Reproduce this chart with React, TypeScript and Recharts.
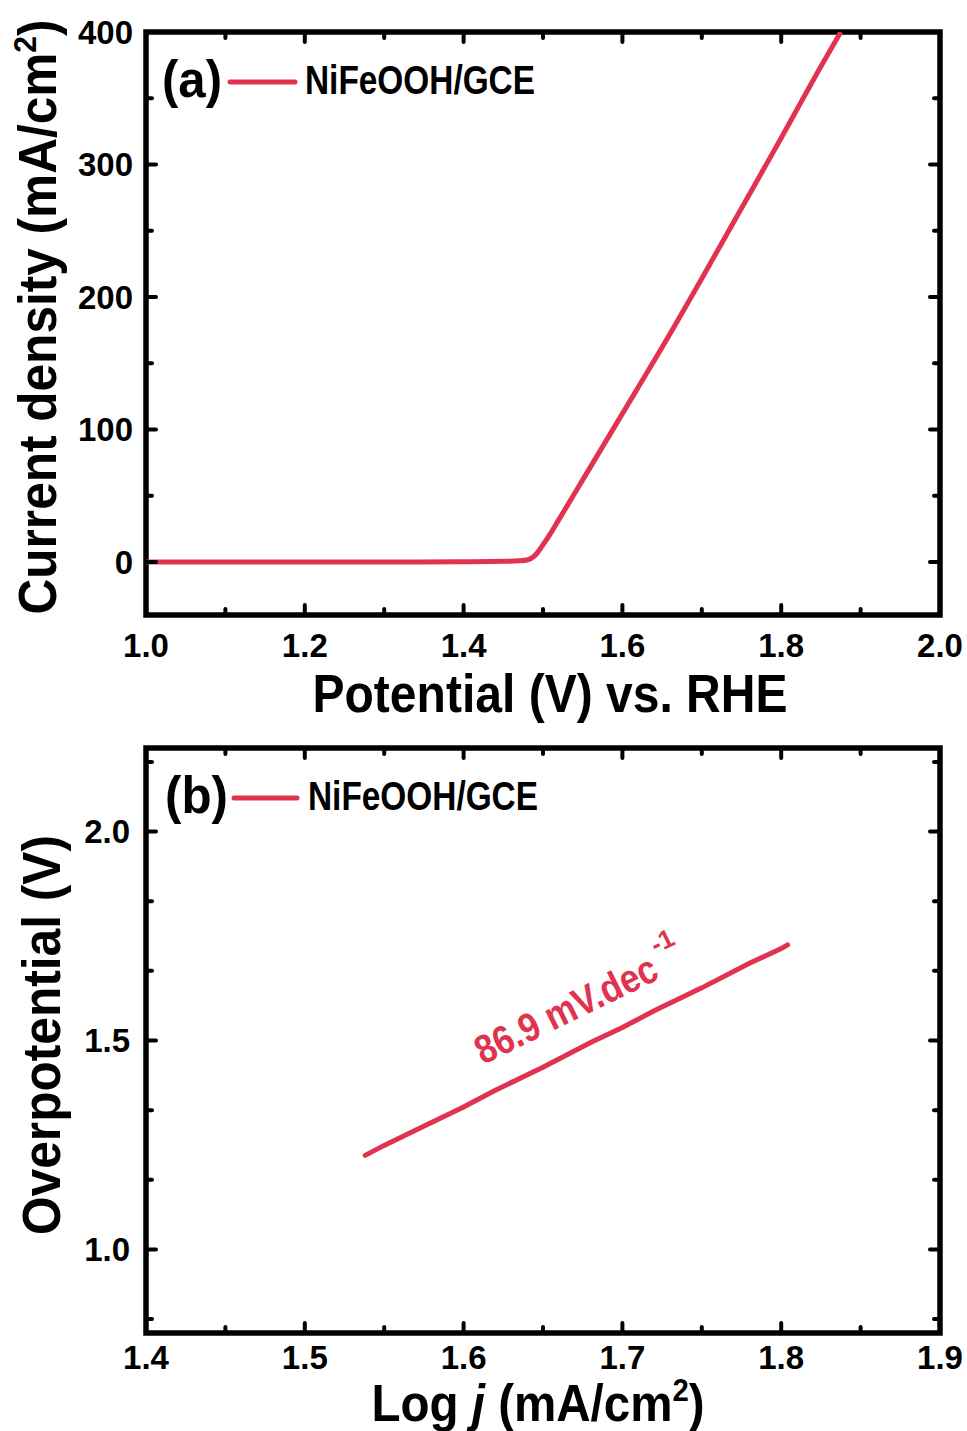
import { LineChart, Line, XAxis, YAxis, ReferenceArea } from "recharts";

// (a) polarization curve
const potential = [1.0, 1.1, 1.2, 1.3, 1.4, 1.45, 1.47, 1.48, 1.49, 1.5, 1.51, 1.52, 1.53, 1.55, 1.6, 1.65, 1.7, 1.75, 1.8, 1.85, 1.875];
const current = [0, 0, 0, 0, 0.2, 0.5, 0.9, 1.5, 5, 13, 22, 32, 42, 62, 112, 162, 214, 267, 320, 374, 400];

// (b) Tafel plot
const logJ = [1.538, 1.55, 1.57, 1.6, 1.62, 1.65, 1.68, 1.7, 1.72, 1.75, 1.78, 1.8, 1.804];
const overpotential = [1.225, 1.249, 1.286, 1.341, 1.381, 1.436, 1.495, 1.531, 1.571, 1.626, 1.685, 1.72, 1.729];

const potMajor = [1.0, 1.2, 1.4, 1.6, 1.8, 2.0];
const potMinor = [1.1, 1.3, 1.5, 1.7, 1.9];
const curMajor = [0, 100, 200, 300, 400];
const curMinor = [50, 150, 250, 350];
const logMajor = [1.4, 1.5, 1.6, 1.7, 1.8, 1.9];
const logMinor = [1.45, 1.55, 1.65, 1.75, 1.85];
const etaMajor = [1.0, 1.5, 2.0];
const etaMinor = [0.8333, 1.1667, 1.3333, 1.6667, 1.8333, 2.1667];

const RED = "#e03350";
const FONT = "'Liberation Sans', Arial, sans-serif";

const isIn = (arr: number[], v: number) => arr.some((m) => Math.abs(m - v) < 1e-6);
const sorted = (a: number[], b: number[]) => [...a, ...b].sort((p, q) => p - q);

// draws the inward tick on the axis side and its mirror on the opposite frame side
function tickRenderer(
  side: "bottom" | "left",
  majors: number[],
  fmt: (v: number) => string,
  labelOffset: number,
  mirrorAt: number
) {
  return (props: any) => {
    const { x, y, payload } = props;
    const major = isIn(majors, payload.value);
    const len = major ? 10 : 6;
    const tk = { stroke: "#000", strokeWidth: 4, strokeLinecap: "round" as const };
    if (side === "bottom") {
      return (
        <g>
          <line x1={x} y1={y} x2={x} y2={y - len} {...tk} />
          <line x1={x} y1={mirrorAt} x2={x} y2={mirrorAt + len} {...tk} />
          {major && (
            <text x={x} y={y + labelOffset} textAnchor="middle" fontFamily={FONT} fontWeight="bold" fontSize={33} fill="#000">
              {fmt(payload.value)}
            </text>
          )}
        </g>
      );
    }
    return (
      <g>
        <line x1={x} y1={y} x2={x + len} y2={y} {...tk} />
        <line x1={mirrorAt} y1={y} x2={mirrorAt - len} y2={y} {...tk} />
        {major && (
          <text x={x - labelOffset} y={y} dy="0.36em" textAnchor="end" fontFamily={FONT} fontWeight="bold" fontSize={33} fill="#000">
            {fmt(payload.value)}
          </text>
        )}
      </g>
    );
  };
}

function PanelA() {
  const data = potential.map((v, i) => ({ v, j: current[i] }));
  const xt = sorted(potMajor, potMinor);
  const yt = sorted(curMajor, curMinor);
  return (
    <LineChart width={967} height={725} data={data} margin={{ top: 32, right: 27, left: 0, bottom: 0 }}>
      <XAxis dataKey="v" type="number" domain={[1, 2]} ticks={xt} interval={0} height={110} axisLine={false}
        tickLine={false} tickSize={0} tickMargin={0} allowDataOverflow
        tick={tickRenderer("bottom", potMajor, (v) => v.toFixed(1), 42, 32)} />
      <YAxis type="number" domain={[-40, 400]} ticks={yt} interval={0} width={146} axisLine={false}
        tickLine={false} tickSize={0} tickMargin={0} allowDataOverflow
        tick={tickRenderer("left", curMajor, (v) => String(v), 13, 940)} />
      <Line dataKey="j" type="monotone" stroke={RED} strokeWidth={5} dot={false} isAnimationActive={false} />
      <ReferenceArea x1={1} x2={2} y1={-40} y2={400} fill="none" stroke="#000" strokeWidth={5.5} ifOverflow="visible" />

      <text x={162} y={97} fontFamily={FONT} fontWeight="bold" fontSize={52} textLength={60} lengthAdjust="spacingAndGlyphs">(a)</text>
      <line x1={230} y1={82} x2={295} y2={82} stroke={RED} strokeWidth={5} strokeLinecap="round" />
      <text x={305} y={94} fontFamily={FONT} fontWeight="bold" fontSize={40} textLength={230} lengthAdjust="spacingAndGlyphs">NiFeOOH/GCE</text>

      <text x={550} y={712} textAnchor="middle" fontFamily={FONT} fontWeight="bold" fontSize={53} textLength={475} lengthAdjust="spacingAndGlyphs">
        Potential (V) vs. RHE
      </text>
      <text x={56} y={317} transform="rotate(-90 56 317)" textAnchor="middle" fontFamily={FONT} fontWeight="bold" fontSize={53}
        textLength={595} lengthAdjust="spacingAndGlyphs">
        Current density (mA/cm<tspan fontSize={32} dy={-20}>2</tspan><tspan dy={20}>)</tspan>
      </text>
    </LineChart>
  );
}

function PanelB() {
  const data = logJ.map((v, i) => ({ v, eta: overpotential[i] }));
  const xt = sorted(logMajor, logMinor);
  const yt = sorted(etaMajor, etaMinor);
  return (
    <LineChart width={967} height={706} data={data} margin={{ top: 23, right: 27, left: 0, bottom: 0 }}>
      <XAxis dataKey="v" type="number" domain={[1.4, 1.9]} ticks={xt} interval={0} height={98} axisLine={false}
        tickLine={false} tickSize={0} tickMargin={0} allowDataOverflow
        tick={tickRenderer("bottom", logMajor, (v) => v.toFixed(1), 36, 23)} />
      <YAxis type="number" domain={[0.8, 2.2]} ticks={yt} interval={0} width={146} axisLine={false}
        tickLine={false} tickSize={0} tickMargin={0} allowDataOverflow
        tick={tickRenderer("left", etaMajor, (v) => v.toFixed(1), 16, 940)} />
      <Line dataKey="eta" type="linear" stroke={RED} strokeWidth={5} dot={false} strokeLinecap="round" isAnimationActive={false} />
      <ReferenceArea x1={1.4} x2={1.9} y1={0.8} y2={2.2} fill="none" stroke="#000" strokeWidth={5.5} ifOverflow="visible" />

      <text x={165} y={88} fontFamily={FONT} fontWeight="bold" fontSize={52} textLength={63} lengthAdjust="spacingAndGlyphs">(b)</text>
      <line x1={234} y1={73} x2={297} y2={73} stroke={RED} strokeWidth={5} strokeLinecap="round" />
      <text x={308} y={85} fontFamily={FONT} fontWeight="bold" fontSize={40} textLength={230} lengthAdjust="spacingAndGlyphs">NiFeOOH/GCE</text>

      <text x={483} y={340} transform="rotate(-26 483 340)" fontFamily={FONT} fontWeight="bold" fontSize={40}
        fill={RED}>
        <tspan textLength={198} lengthAdjust="spacingAndGlyphs">86.9 mV.dec</tspan>
        <tspan fontSize={26} dx={6} dy={-24}>-1</tspan>
      </text>

      <text x={538} y={696} textAnchor="middle" fontFamily={FONT} fontWeight="bold" fontSize={52} textLength={333} lengthAdjust="spacingAndGlyphs">
        Log <tspan fontStyle="italic">j</tspan> (mA/cm<tspan fontSize={32} dy={-20}>2</tspan><tspan dy={20}>)</tspan>
      </text>
      <text x={60} y={310} transform="rotate(-90 60 310)" textAnchor="middle" fontFamily={FONT} fontWeight="bold" fontSize={53}
        textLength={400} lengthAdjust="spacingAndGlyphs">
        Overpotential (V)
      </text>
    </LineChart>
  );
}

export default function App() {
  return (
    <div style={{ position: "absolute", left: 0, top: 0, width: 967, height: 1431, background: "#fff" }}>
      <PanelA />
      <PanelB />
    </div>
  );
}
